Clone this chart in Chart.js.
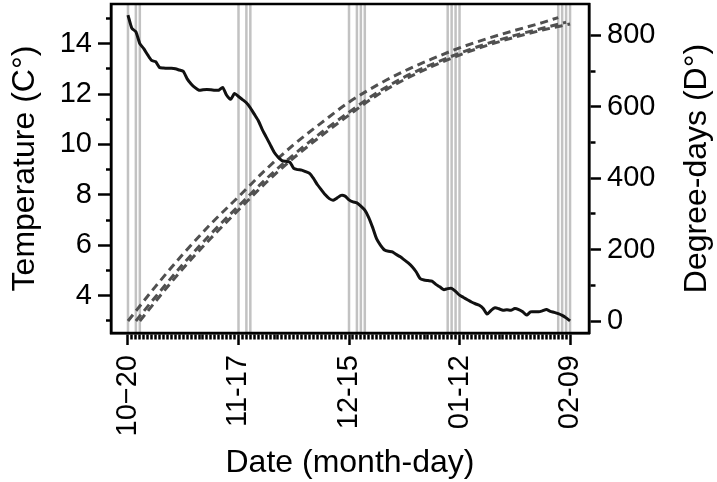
<!DOCTYPE html>
<html>
<head>
<meta charset="utf-8">
<script src="https://cdn.jsdelivr.net/npm/chart.js@4/dist/chart.umd.min.js"></script>
<style>
  html, body { margin: 0; padding: 0; background: #fff; }
  canvas { display: block; }
</style>
</head>
<body>
<canvas id="chart-suhu" width="717" height="482"></canvas>
<script>
// suhu harian (C), hari ke-0 = 10-20 sampai hari ke-112 = 02-09
var suhu = [
  15.13, 14.6, 14.47, 14.0, 13.8, 13.55, 13.33, 13.28, 13.05, 13.03,
  13.02, 13.02, 13.0, 12.95, 12.9, 12.6, 12.4, 12.25, 12.15, 12.17,
  12.18, 12.17, 12.15, 12.15, 12.26, 11.95, 11.79, 12.02, 11.9, 11.78,
  11.65, 11.45, 11.2, 10.95, 10.6, 10.3, 10.0, 9.7, 9.5, 9.36,
  9.33, 9.3, 9.05, 9.0, 8.98, 8.92, 8.85, 8.65, 8.4, 8.2,
  8.0, 7.85, 7.79, 7.88, 7.98, 7.95, 7.8, 7.72, 7.68, 7.55,
  7.39, 7.1, 6.7, 6.25, 6.0, 5.81, 5.76, 5.74, 5.63, 5.54,
  5.42, 5.3, 5.15, 4.95, 4.68, 4.62, 4.6, 4.58, 4.45, 4.35,
  4.24, 4.28, 4.29, 4.17, 4.02, 3.93, 3.84, 3.75, 3.68, 3.62,
  3.49, 3.27, 3.42, 3.52, 3.48, 3.42, 3.44, 3.42, 3.49, 3.45,
  3.36, 3.23, 3.36, 3.36, 3.36, 3.4, 3.45, 3.38, 3.34, 3.29,
  3.22, 3.12, 3.0
];

// degree-days (D) per tanggal mulai
var hariDD1 = [0, 7, 14, 21, 28, 35, 42, 49, 56, 63, 70, 77, 84, 91, 98, 105, 109];
var nilaiDD1 = [0, 97, 188, 272, 348, 425, 494, 555, 613, 660, 700, 734, 765, 791, 814, 836, 850];
var hariDD2 = [2, 7, 14, 21, 28, 35, 42, 49, 56, 63, 70, 77, 84, 91, 98, 105, 111];
var nilaiDD2 = [0, 68, 160, 244, 322, 398, 466, 528, 585, 639, 683, 719, 750, 777, 800, 820, 837];
var hariDD3 = [3, 7, 14, 21, 28, 35, 42, 49, 56, 63, 70, 77, 84, 91, 98, 105, 112];
var nilaiDD3 = [0, 55, 148, 232, 311, 388, 457, 519, 577, 632, 676, 713, 745, 772, 795, 815, 832];

// hari pengambilan sampel (garis abu-abu)
var hariSampel = [0, 2, 3, 28, 30, 31, 56, 58, 59, 60, 81, 82, 83, 84, 109, 110, 111, 112];

// label sumbu
var hariTick = [0, 28, 56, 84, 112];
var labelTanggal = ["10\u221220", "11-17", "12-15", "01-12", "02-09"];
var tickSuhu = [3, 4, 5, 6, 7, 8, 9, 10, 11, 12, 13, 14, 15];
var labelSuhu = [4, 6, 8, 10, 12, 14];
var tickDD = [0, 100, 200, 300, 400, 500, 600, 700, 800];
var labelDD = [0, 200, 400, 600, 800];

var FONT = "'Liberation Sans', Arial, sans-serif";
var UKURAN_TICK = 29;
var UKURAN_JUDUL = 32;
Chart.defaults.font.family = FONT;
Chart.defaults.color = '#000';

var semuaHari = suhu.map(function (v, i) { return i; });

function toXY(hari, nilai) {
  return hari.map(function (d, i) { return { x: d, y: nilai[i] }; });
}

// garis vertikal tanggal sampel
const garisSampel = {
  id: 'garisSampel',
  beforeDatasetsDraw(chart) {
    const { ctx, chartArea, scales } = chart;
    ctx.save();
    ctx.strokeStyle = '#c2c2c2';
    ctx.lineWidth = 2.5;
    hariSampel.forEach(function (d) {
      const px = scales.x.getPixelForValue(d);
      ctx.beginPath();
      ctx.moveTo(px, chartArea.top);
      ctx.lineTo(px, chartArea.bottom);
      ctx.stroke();
    });
    ctx.restore();
  }
};

// kotak + judul sumbu kanan (dibaca dari bawah ke atas)
const bingkai = {
  id: 'bingkai',
  afterDraw(chart) {
    const { ctx, chartArea } = chart;
    ctx.save();
    ctx.strokeStyle = '#000';
    ctx.lineWidth = 2.5;
    ctx.strokeRect(chartArea.left, chartArea.top, chartArea.right - chartArea.left, chartArea.bottom - chartArea.top);
    ctx.translate(chart.width - 20, (chartArea.top + chartArea.bottom) / 2);
    ctx.rotate(-Math.PI / 2);
    ctx.font = UKURAN_JUDUL + 'px ' + FONT;
    ctx.fillStyle = '#000';
    ctx.textAlign = 'center';
    ctx.textBaseline = 'middle';
    ctx.fillText('Degree-days (D\u00B0)', 0, 0);
    ctx.restore();
  }
};

function isMinor(c, daftar) {
  return c.tick && daftar.indexOf(c.tick.value) < 0;
}

function garisDD(label, data) {
  return {
    label: label,
    data: data,
    yAxisID: 'y1',
    borderColor: '#505050',
    borderWidth: 3,
    borderDash: [8, 5],
    pointRadius: 0,
    cubicInterpolationMode: 'monotone'
  };
}

var ctx = document.getElementById('chart-suhu').getContext('2d');
var chartSuhu = new Chart(ctx, {
  type: 'line',
  data: {
    datasets: [
      {
        label: 'Temperature',
        data: toXY(semuaHari, suhu),
        yAxisID: 'y',
        borderColor: '#111',
        borderWidth: 3,
        pointRadius: 0,
        tension: 0.2,
        borderJoinStyle: 'round'
      },
      garisDD('DD 1', toXY(hariDD1, nilaiDD1)),
      garisDD('DD 2', toXY(hariDD2, nilaiDD2)),
      garisDD('DD 3', toXY(hariDD3, nilaiDD3))
    ]
  },
  options: {
    responsive: false,
    animation: false,
    layout: { padding: { top: 4, left: 0, right: 0, bottom: 0 } },
    plugins: {
      legend: { display: false },
      tooltip: { enabled: false }
    },
    scales: {
      x: {
        type: 'linear',
        min: -4.3,
        max: 116.8,
        afterBuildTicks: function (s) {
          s.ticks = semuaHari.map(function (v) { return { value: v }; });
        },
        afterFit: function (s) {
          s.height = 149;
          s.paddingLeft = 0;
          s.paddingRight = 0;
        },
        ticks: {
          autoSkip: false,
          minRotation: 90,
          maxRotation: 90,
          padding: 10,
          color: '#000',
          font: { size: UKURAN_TICK },
          callback: function (v) {
            var i = hariTick.indexOf(v);
            return i >= 0 ? labelTanggal[i] : '';
          }
        },
        grid: {
          drawOnChartArea: false,
          tickLength: 12,
          tickWidth: 2.5,
          tickColor: '#000',
          tickBorderDash: function (c) { return isMinor(c, hariTick) ? [5, 100] : []; }
        },
        border: { color: '#000', width: 2.5 },
        title: {
          display: true,
          text: 'Date (month-day)',
          color: '#000',
          font: { size: UKURAN_JUDUL },
          padding: { top: 0, bottom: 0 }
        }
      },
      y: {
        position: 'left',
        min: 2.52,
        max: 15.57,
        afterBuildTicks: function (s) {
          s.ticks = tickSuhu.map(function (v) { return { value: v }; });
        },
        afterFit: function (s) {
          s.width = 111;
          s.paddingTop = 0;
          s.paddingBottom = 0;
        },
        ticks: {
          autoSkip: false,
          padding: 6,
          color: '#000',
          font: { size: UKURAN_TICK },
          callback: function (v) { return labelSuhu.indexOf(v) >= 0 ? String(v) : ''; }
        },
        grid: {
          drawOnChartArea: false,
          tickLength: 13,
          tickWidth: 2.5,
          tickColor: '#000',
          tickBorderDash: function (c) { return isMinor(c, labelSuhu) ? [13, 100] : []; },
          tickBorderDashOffset: function (c) { return isMinor(c, labelSuhu) ? -8 : 0; }
        },
        border: { color: '#000', width: 2.5 },
        title: {
          display: true,
          text: 'Temperature (C\u00B0)',
          color: '#000',
          font: { size: UKURAN_JUDUL },
          padding: { top: 6, bottom: 0 }
        }
      },
      y1: {
        position: 'right',
        min: -33.6,
        max: 888,
        afterBuildTicks: function (s) {
          s.ticks = tickDD.map(function (v) { return { value: v }; });
        },
        afterFit: function (s) {
          s.width = 128;
          s.paddingTop = 0;
          s.paddingBottom = 0;
        },
        ticks: {
          autoSkip: false,
          padding: 6,
          color: '#000',
          font: { size: UKURAN_TICK },
          callback: function (v) { return labelDD.indexOf(v) >= 0 ? String(v) : ''; }
        },
        grid: {
          drawOnChartArea: false,
          tickLength: 12,
          tickWidth: 2.5,
          tickColor: '#000',
          tickBorderDash: function (c) { return isMinor(c, labelDD) ? [5, 100] : []; }
        },
        border: { color: '#000', width: 2.5 }
      }
    }
  },
  plugins: [garisSampel, bingkai]
});
</script>
</body>
</html>
